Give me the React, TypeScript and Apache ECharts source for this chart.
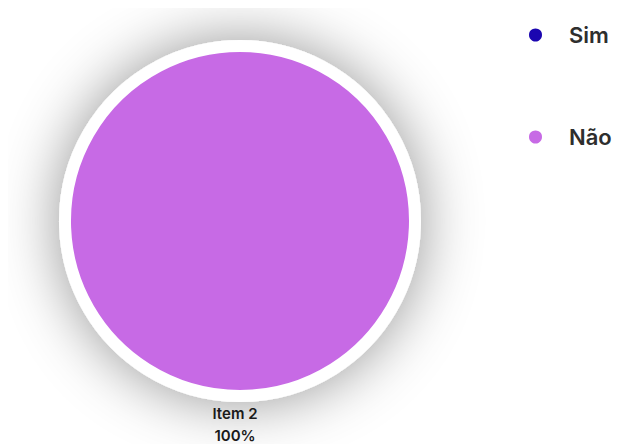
import React, { useEffect, useRef } from "react";
import * as echarts from "echarts";

const categories = ["Sim", "Não"];
const values = [0, 100];
const labelNames = ["Item 1", "Item 2"];
const colors = ["#1b06b0", "#c76ae5"];

export default function App() {
  const ref = useRef<HTMLDivElement>(null);
  useEffect(() => {
    if (!ref.current) return;
    const chart = echarts.init(ref.current, null, { renderer: "svg" });
    chart.setOption({
      animation: false,
      color: colors,
      legend: {
        orient: "vertical",
        left: 514,
        top: 11,
        itemGap: 80,
        icon: "circle",
        itemWidth: 15,
        itemHeight: 15,
        textStyle: { fontSize: 22, fontWeight: 600, color: "#2e2e2e", fontFamily: "Inter", padding: [0, 0, 0, 21] },
        data: categories,
      },
      series: [
        {
          type: "pie",
          center: [232, 213],
          radius: 175,
          startAngle: 90,
          itemStyle: {
            borderColor: "#ffffff",
            borderWidth: 12,
            shadowBlur: 60,
            shadowColor: "rgba(0,0,0,0.42)",
          },
          label: {
            show: true,
            position: "outside",
            fontSize: 15,
            fontWeight: 600,
            lineHeight: 22,
            color: "#1a1a1a",
            fontFamily: "Inter",
            formatter: (p: any) => (p.value > 0 ? `${labelNames[p.dataIndex]}\n${Math.round(p.percent)}%` : ""),
          },
          labelLine: { show: false, length: 6, length2: 0 },
          labelLayout: { align: "center", verticalAlign: "top" },
          data: categories.map((c, i) => ({ name: c, value: values[i] })),
        },
      ],
    });
    return () => chart.dispose();
  }, []);
  return <div ref={ref} style={{ width: 620, height: 436 }} />;
}
